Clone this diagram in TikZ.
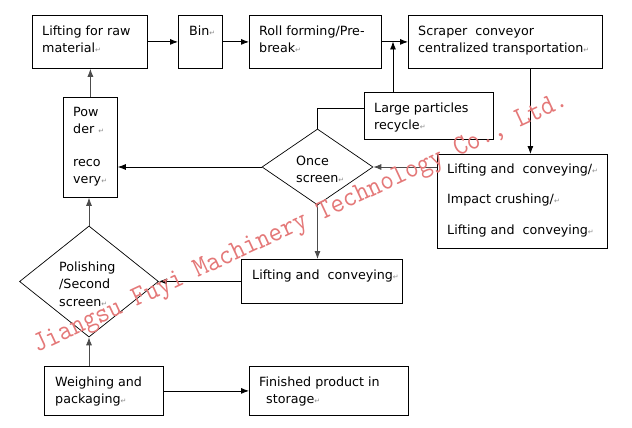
\documentclass[tikz,border=0pt]{standalone}
\usepackage{fontspec}
\setmainfont{DejaVu Sans}
\usetikzlibrary{shapes.geometric,arrows.meta,calc}
\definecolor{wmred}{RGB}{228,120,120}
\newcommand\rmk{\textcolor{black!45}{\fontsize{7}{7}\selectfont ↵}}
\begin{document}
\begin{tikzpicture}[x=1pt,y=-1pt,
  box/.style={draw, line width=0.8pt, rectangle, inner sep=0pt, anchor=north west},
  dia/.style={draw, diamond, inner sep=0pt, line width=0.7pt},
  txt/.style={anchor=north west, inner sep=0pt, align=left, font=\fontsize{12.7}{17.5}\selectfont},
  arr/.style={-{Latex[length=8pt,width=6pt]}, line width=0.8pt},
  garr/.style={arr, draw=black!70},
  wm/.style={font=\ttfamily\fontsize{28.5}{28.5}\selectfont, text=wmred, rotate=25, xscale=0.93, anchor=base west, inner sep=0pt}]
\useasboundingbox (0,0) rectangle (632,428);
% boxes
\node[box, minimum width=115pt, minimum height=53pt] (raw) at (32,15) {};
\node[box, minimum width=44pt, minimum height=53pt] (bin) at (178,15) {};
\node[box, minimum width=132pt, minimum height=53pt] (roll) at (249,15) {};
\node[box, minimum width=194pt, minimum height=53pt] (scr) at (408,15) {};
\node[box, minimum width=129pt, minimum height=47pt] (lp) at (364,92) {};
\node[box, minimum width=170pt, minimum height=94pt] (lic) at (437,154) {};
\node[box, minimum width=54pt, minimum height=100pt] (pw) at (63,97) {};
\node[box, minimum width=161pt, minimum height=44pt] (ml) at (241,259) {};
\node[box, minimum width=119pt, minimum height=49pt] (wp) at (44,366) {};
\node[box, minimum width=159pt, minimum height=49pt] (fp) at (249,366) {};
\node[dia, minimum width=111pt, minimum height=76pt] (once) at (317.5,167) {};
\node[dia, minimum width=139pt, minimum height=111pt] (pol) at (89,281.5) {};
% texts
\node[txt] (rawt) at (42,25.4) {Lifting for raw\\material\rmk};
\node[txt] (bint) at (189,25.4) {Bin\rmk};
\node[txt] (rollt) at (259,25.4) {Roll forming/Pre-\\break\rmk};
\node[txt] (scrt) at (418,25.4) {Scraper\ \ conveyor\\centralized transportation\rmk};
\node[txt, font=\fontsize{12.7}{17}\selectfont] (lpt) at (374,102.4) {Large particles\\recycle\rmk};
\node[txt] (lict) at (447,163.4) {Lifting and\ \ conveying/\rmk\\[13pt]Impact crushing/\rmk\\[13pt]Lifting and\ \ conveying\rmk};
\node[txt, font=\fontsize{12.7}{17}\selectfont] (oncet) at (296,155.4) {Once\\screen\rmk};
\node[txt, font=\fontsize{12.7}{17}\selectfont] (pwt) at (73,107.4) {Pow\\der \rmk\\[16pt]reco\\very\rmk};
\node[txt] (polt) at (59,261.4) {Polishing\\/Second\\screen\rmk};
\node[txt] (mlt) at (252,269.4) {Lifting and\ \ conveying\rmk};
\node[txt, font=\fontsize{12.7}{17}\selectfont] (wpt) at (55,376.4) {Weighing and\\packaging\rmk};
\node[txt, font=\fontsize{12.7}{17}\selectfont] (fpt) at (259,376.4) {Finished product in\\\hspace*{7pt}storage\rmk};
% connectors
\coordinate (join) at (393,41.5);
\coordinate (scx) at ($(scr.south)+(25,0)$);
\draw[arr] (raw.east) -- (bin.west);
\draw[arr] (bin.east) -- (roll.west);
\draw[arr] (roll.east) -- (scr.west);
\draw[arr] (join |- lp.north) -- (join);
\draw[line width=0.8pt] (once.north) |- ($(lp.west)+(0,-7.5)$);
\draw[arr] (scx) -- (scx |- lic.north);
\draw[garr] (once.east -| lic.west) -- (once.east);
\draw[arr] (once.west) -- (once.west -| pw.east);
\draw[garr] (once.south) -- (once.south |- ml.north);
\draw[arr] (ml.west) -- (ml.west -| pol.east);
\draw[garr] (pol.south |- wp.north) -- (pol.south);
\draw[garr] (pol.north) -- (pol.north |- pw.south);
\draw[garr] (pw.north) -- (pw.north |- raw.south);
\draw[arr] (wp.east) -- (fp.west);
% watermark
\node[wm] (wmk) at (37,353) {Jiangsu Fuyi Machinery Technology Co., Ltd.};
\end{tikzpicture}
\end{document}
